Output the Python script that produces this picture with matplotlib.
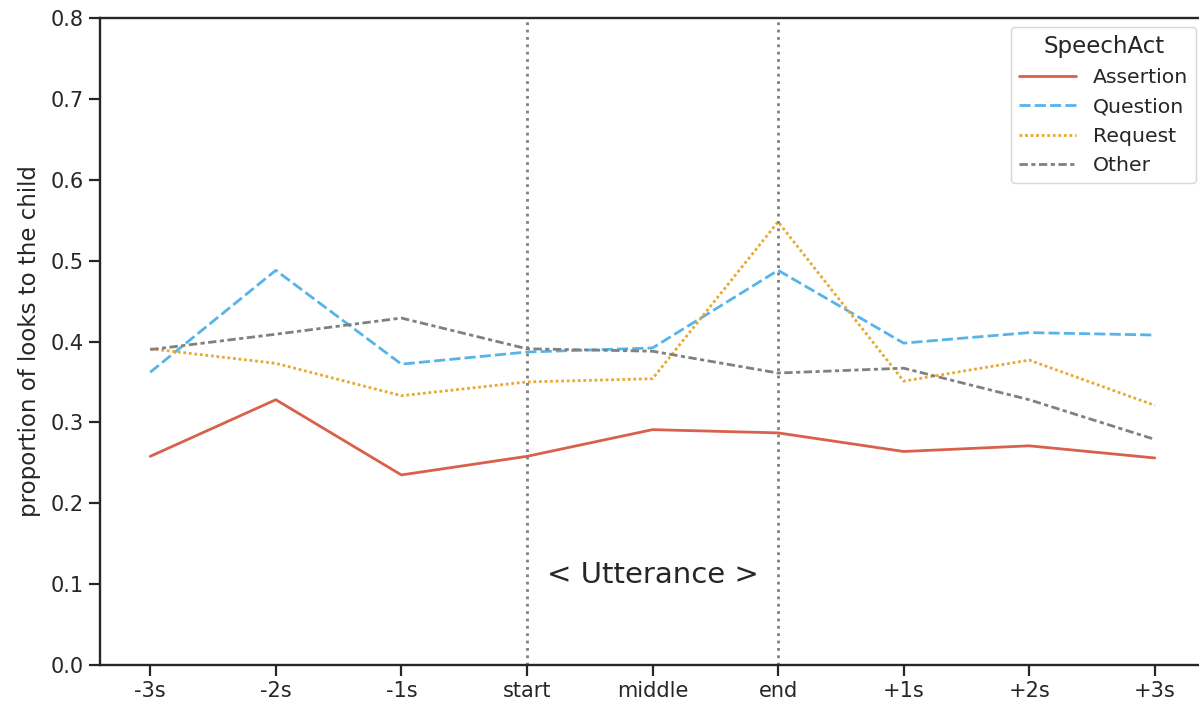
import numpy as np
import matplotlib
matplotlib.use('Agg')
import matplotlib.pyplot as plt
import seaborn as sns

sns.set_style('ticks')
plt.rcParams['font.family'] = ['DejaVu Sans']

time_labels = ['-3s', '-2s', '-1s', 'start', 'middle', 'end', '+1s', '+2s', '+3s']
assertion = [0.258, 0.328, 0.235, 0.258, 0.291, 0.287, 0.264, 0.271, 0.256]
question = [0.362, 0.488, 0.372, 0.387, 0.392, 0.488, 0.398, 0.411, 0.408]
request = [0.391, 0.373, 0.333, 0.350, 0.354, 0.548, 0.351, 0.377, 0.321]
other = [0.390, 0.409, 0.429, 0.391, 0.388, 0.361, 0.367, 0.328, 0.279]

series = [('Assertion', assertion, '#d9604a', None),
          ('Question', question, '#56B4E9', (4, 1.5)),
          ('Request', request, '#E8A930', (1, 1)),
          ('Other', other, '#808080', (3, 1.25, 1.5, 1.25))]

fig = plt.figure(figsize=(11.99, 7.05), dpi=100)
ax = fig.add_axes([100/1199, 40/705, 1105/1199, 647/705])

x = np.arange(len(time_labels))
for name, vals, col, dash in series:
    line, = ax.plot(x, vals, color=col, lw=2.0, label=name)
    if dash is not None:
        line.set_dashes(dash)

ax.axvline(3, color='grey', ls=':', lw=2.0)
ax.axvline(5, color='grey', ls=':', lw=2.0)
ax.text(4, 0.111, '< Utterance >', ha='center', va='center', fontsize=21, color='#262626')

ax.set_xticks(x)
ax.set_xticklabels(time_labels, fontsize=15)
ax.set_xlim(-0.4, 8.4)
ax.set_ylim(0, 0.8)
yt = np.arange(0, 0.81, 0.1)
ax.set_yticks(yt)
ax.set_yticklabels(['%.1f' % v for v in yt], fontsize=15)
ax.set_ylabel('proportion of looks to the child', fontsize=16.5, labelpad=7)
ax.tick_params(length=8, width=1.6, colors='#262626')
for s in ax.spines.values():
    s.set_linewidth(1.7)
    s.set_color('#262626')

leg = ax.legend(title='SpeechAct', loc='upper right', bbox_to_anchor=(0.992, 0.986),
                fontsize=14.7, title_fontsize=16.5, handlelength=2.8,
                borderaxespad=0)

fig.savefig('out.png', dpi=100)
